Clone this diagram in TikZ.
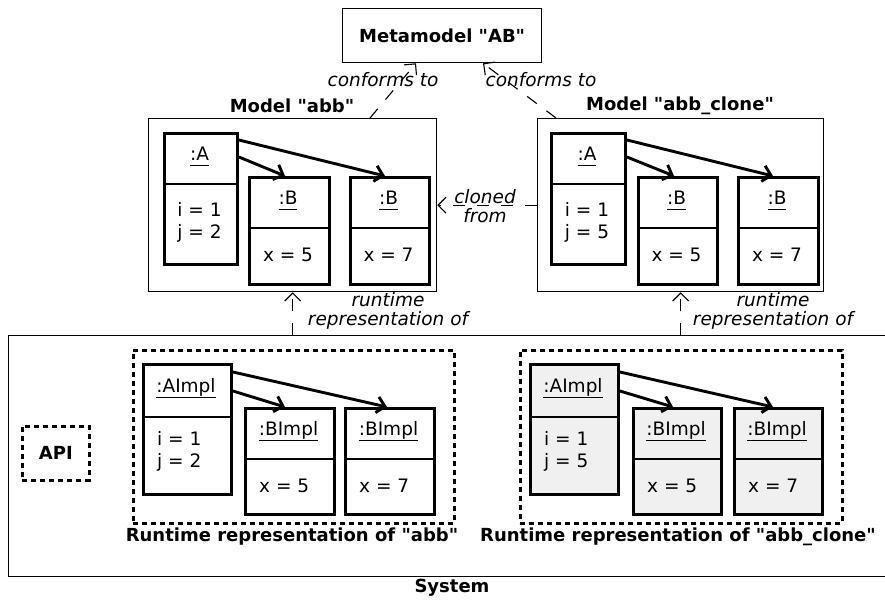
\documentclass[tikz,border=0pt]{standalone}
\usepackage{fontspec}
\setmainfont{DejaVu Sans}[Ligatures=TeXOff]
\usetikzlibrary{arrows.meta,calc}
\definecolor{implgray}{HTML}{F0F0F0}
\tikzset{
  objbox/.style={draw, line width=2.9pt, anchor=north west, inner sep=0pt},
  container/.style={draw, line width=1.3pt, anchor=north west, inner sep=0pt},
  dashbox/.style={draw, line width=2.8pt, dash pattern=on 5pt off 4pt, anchor=north west, inner sep=0pt},
  link/.style={line width=2.9pt, -{Straight Barb[length=8pt,width=16pt]}},
  dep/.style={line width=1.1pt, dash pattern=on 12pt off 12pt, -{Straight Barb[length=8pt,width=16pt]}},
  txt/.style={font=\fontsize{18.5}{22}\selectfont, inner sep=0pt, align=center},
  ltxt/.style={font=\fontsize{18.5}{22}\selectfont, inner sep=0pt, align=left, anchor=west},
  btxt/.style={font=\fontsize{18}{22}\selectfont\bfseries, inner sep=0pt},
  itxt/.style={font=\fontsize{18.5}{22}\selectfont\itshape, inner sep=0pt, align=center},
}
\newcommand\objname[1]{\underline{\smash{#1}\vphantom{p}}}
\newcommand\mkobj[8]{%
  \node[objbox, #8, minimum width={(#4-#2)*1pt}, minimum height={(#5-#3)*1pt}] (#1) at (#2,#3) {};
  \draw[line width=2.9pt] (#2,#6) -- (#4,#6);
  \node[txt] (#1-t) at ({(#2+#4)/2},{(#3+#6)/2}) {\objname{#7}};
}
\begin{document}
\begin{tikzpicture}[x=1pt,y=-1pt]
\useasboundingbox (0,0) rectangle (885,601);
\clip (0,0) rectangle (885,601);

% Metamodel
\node[container, minimum width=199pt, minimum height=54pt] (meta) at (342,8) {};
\node[btxt] (metat) at (meta.center) {Metamodel "AB"};

% Model abb
\node[container, minimum width=288pt, minimum height=173pt] (abb) at (148,118) {};
\node[btxt] (abbt) at (292,106) {Model "abb"};
\mkobj{a1}{163}{132}{236}{263}{184}{:A}{}
\node[txt] (a1-v) at (199.5,222) {i = 1\\j = 2};
\mkobj{b1}{248}{176}{328}{283}{228}{:B}{}
\node[txt] (b1-v) at (288,255) {x = 5};
\mkobj{b2}{349}{176}{428}{283}{228}{:B}{}
\node[txt] (b2-v) at (388.5,255) {x = 7};
\draw[link] (a1.north east |- 0,140) -- (b2.north west -| 385,0);
\draw[link] (a1.north east |- 0,157) -- (b1.north west -| 285,0);

% Model abb_clone
\node[container, minimum width=286pt, minimum height=173pt] (clone) at (537,118) {};
\node[btxt] (clonet) at (680,106) {Model "abb\_clone"};
\mkobj{a2}{550}{132}{624}{263}{184}{:A}{}
\node[txt] (a2-v) at (587,222) {i = 1\\j = 5};
\mkobj{c1}{637}{176}{716}{283}{228}{:B}{}
\node[txt] (c1-v) at (676.5,255) {x = 5};
\mkobj{c2}{737}{176}{817}{283}{228}{:B}{}
\node[txt] (c2-v) at (777,255) {x = 7};
\draw[link] (a2.north east |- 0,140) -- (c2.north west -| 773,0);
\draw[link] (a2.north east |- 0,157) -- (c1.north west -| 674,0);

% conforms to
\draw[dep] ($(abb.north west)+(222,0)$) -- ($(meta.south west)+(74,0)$);
\node[itxt] (conf1) at (383,80) {conforms to};
\draw[dep] ($(clone.north west)+(19,0)$) -- ($(meta.south west)+(141,0)$);
\node[itxt] (conf2) at (541,80) {conforms to};

% cloned from
\draw[dep] (clone.west) -- (abb.east);
\node[itxt] (clonedl) at (485,206) {cloned\\[-3pt]from};

% System
\node[container, minimum width=892pt, minimum height=241pt] (system) at (8,335) {};
\node[btxt] (systemt) at (452,588) {System};

% runtime representation arrows
\draw[dep] (abb.south |- system.north) -- (abb.south);
\node[itxt] (rr1) at (388,311) {runtime\\[-3pt]representation of};
\draw[dep] (clone.south |- system.north) -- (clone.south);
\node[itxt] (rr2) at (773,311) {runtime\\[-3pt]representation of};

% API
\node[dashbox, minimum width=67pt, minimum height=54pt] (api) at (21,425) {};
\node[btxt] (apit) at (api.center) {API};

% Runtime abb
\node[dashbox, minimum width=321pt, minimum height=173pt] (rabb) at (132,349) {};
\node[btxt] (rabbt) at (292,537) {Runtime representation of "abb"};
\mkobj{ra}{142}{363}{230}{493}{417}{:AImpl}{}
\node[ltxt] (ra-v) at (157,451) {i = 1\\j = 2};
\mkobj{rb1}{244}{407}{333}{513}{459}{:BImpl}{}
\node[ltxt] (rb1-v) at (259,486) {x = 5};
\mkobj{rb2}{344}{407}{433}{513}{459}{:BImpl}{}
\node[ltxt] (rb2-v) at (359,486) {x = 7};
\draw[link] (ra.north east |- 0,372) -- (rb2.north west -| 387,0);
\draw[link] (ra.north east |- 0,391) -- (rb1.north west -| 285,0);

% Runtime abb_clone
\node[dashbox, minimum width=322pt, minimum height=173pt] (rclone) at (519,349) {};
\node[btxt] (rclonet) at (678,537) {Runtime representation of "abb\_clone"};
\mkobj{rc}{529}{363}{617}{493}{417}{:AImpl}{fill=implgray}
\node[ltxt] (rc-v) at (544,451) {i = 1\\j = 5};
\mkobj{rd1}{632}{407}{720}{513}{459}{:BImpl}{fill=implgray}
\node[ltxt] (rd1-v) at (647,486) {x = 5};
\mkobj{rd2}{733}{407}{821}{513}{459}{:BImpl}{fill=implgray}
\node[ltxt] (rd2-v) at (748,486) {x = 7};
\draw[link] (rc.north east |- 0,372) -- (rd2.north west -| 773,0);
\draw[link] (rc.north east |- 0,391) -- (rd1.north west -| 673,0);
\end{tikzpicture}
\end{document}
